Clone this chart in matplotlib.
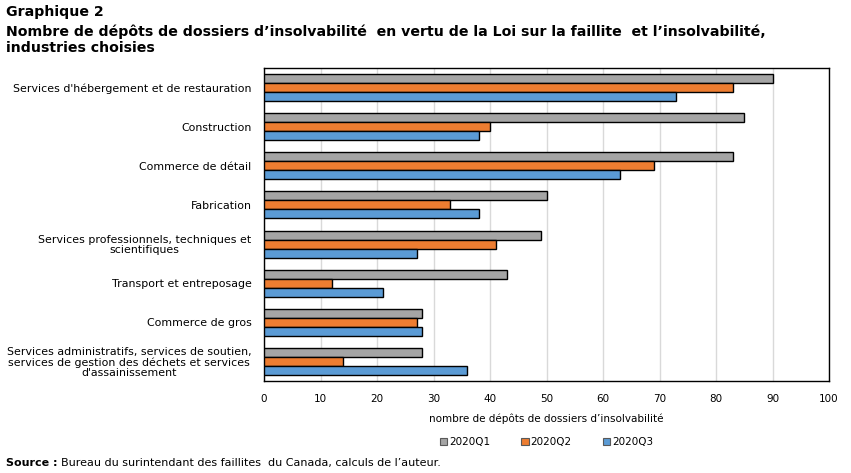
import numpy as np
import matplotlib.pyplot as plt

industries = [
    "Services d'hébergement et de restauration",
    "Construction",
    "Commerce de détail",
    "Fabrication",
    "Services professionnels, techniques et\nscientifiques",
    "Transport et entreposage",
    "Commerce de gros",
    "Services administratifs, services de soutien,\nservices de gestion des déchets et services\nd'assainissement",
]
q1 = [90, 85, 83, 50, 49, 43, 28, 28]
q2 = [83, 40, 69, 33, 41, 12, 27, 14]
q3 = [73, 38, 63, 38, 27, 21, 28, 36]
series = ["2020Q1", "2020Q2", "2020Q3"]
colors = ["#A5A5A5", "#ED7D31", "#5B9BD5"]
xticks = list(range(0, 101, 10))

plt.rcParams['font.family'] = ['DejaVu Sans']

fig = plt.figure(figsize=(8.51, 4.73), dpi=100)
ax = fig.add_axes([264 / 851, 1 - 381 / 473, (829 - 264) / 851, (381 - 68) / 473])

y = np.arange(len(industries))
h = 0.23
for i, (vals, lab, c) in enumerate(zip([q1, q2, q3], series, colors)):
    ax.barh(y + (i - 1) * h, vals, height=h, color=c, edgecolor='black',
            linewidth=1, label=lab, zorder=3)

ax.set_ylim(len(industries) - 0.5, -0.5)
ax.set_xlim(0, 100)
ax.set_xticks(xticks)
ax.set_yticks(y)
ax.set_yticklabels(industries, fontsize=7.9, linespacing=1.0, multialignment='center')
ax.tick_params(axis='x', labelsize=7.5, length=0, pad=9)
ax.tick_params(axis='y', length=0, pad=9)
ax.grid(axis='x', color='#D9D9D9', linewidth=1, zorder=0)
for s in ax.spines.values():
    s.set_color('black')
    s.set_linewidth(1)

ax.set_xlabel("nombre de dépôts de dossiers d’insolvabilité", fontsize=7.5, labelpad=7)

leg = ax.legend(loc='center', bbox_to_anchor=(0.5, -0.195), ncol=3, frameon=False,
                fontsize=7.5, handlelength=0.7, handleheight=0.7, handletextpad=0.2,
                columnspacing=3.0)
for p in leg.get_patches():
    p.set_edgecolor('#595959')
    p.set_linewidth(0.8)

fig.text(6 / 851, 1 - 12 / 473, "Graphique 2", fontsize=10.2, fontweight='bold', va='center')
fig.text(6 / 851, 1 - 32 / 473,
         "Nombre de dépôts de dossiers d’insolvabilité  en vertu de la Loi sur la faillite  et l’insolvabilité,",
         fontsize=10.2, fontweight='bold', va='center')
fig.text(6 / 851, 1 - 48 / 473, "industries choisies",
         fontsize=10.2, fontweight='bold', va='center')
fig.text(6 / 851, 1 - 463 / 473, "Source :", fontsize=8, fontweight='bold', va='center')
fig.text(61 / 851, 1 - 463 / 473, "Bureau du surintendant des faillites  du Canada, calculs de l’auteur.",
         fontsize=8, va='center')

fig.savefig('out.png', dpi=100)
